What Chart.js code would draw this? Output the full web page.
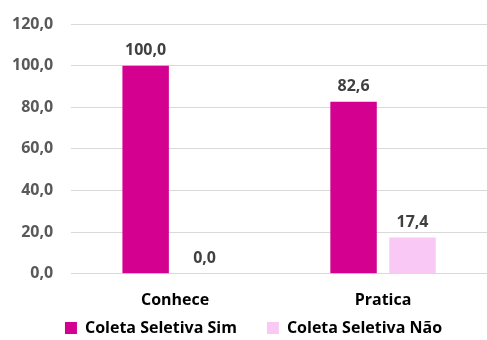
<!DOCTYPE html>
<html>
<head>
<meta charset="utf-8">
<script src="https://cdn.jsdelivr.net/npm/chart.js@4"></script>
<style>
html,body{margin:0;padding:0;background:#fff;}
#wrap{width:487px;height:340px;position:relative;}
</style>
</head>
<body>
<div id="wrap"><canvas id="c" width="487" height="340"></canvas></div>
<script>
const categories = ["Conhece", "Pratica"];
const seriesNames = ["Coleta Seletiva Sim", "Coleta Seletiva Não"];
const simValues = [100.0, 82.6];
const naoValues = [0.0, 17.4];
const yTicks = [0, 20, 40, 60, 80, 100, 120];

const fmt = v => v.toFixed(1).replace('.', ',');
const FONT = "'Open Sans', 'DejaVu Sans', sans-serif";

const LEGEND_PAD = 30;
const LEGEND_TEXT_Y = 328;
const LEGEND_SHIFT_X = 13;

const labelPlugin = {
  id: 'valueLabels',
  afterDatasetsDraw(chart) {
    const ctx = chart.ctx;
    ctx.save();
    ctx.font = "bold 16px " + FONT;
    ctx.fillStyle = '#404040';
    ctx.textAlign = 'center';
    ctx.textBaseline = 'alphabetic';
    chart.data.datasets.forEach((ds, i) => {
      chart.getDatasetMeta(i).data.forEach((bar, j) => {
        ctx.fillText(fmt(ds.data[j]), bar.x, bar.y - 11);
      });
    });
    ctx.restore();
  }
};

const legendFix = {
  id: 'legendFix',
  beforeLayout(chart) {
    const lg = chart.legend;
    if (lg && !lg._patched) {
      const orig = lg.fit;
      lg.fit = function () { orig.call(this); this.height = 13; };
      lg._patched = true;
    }
  },
  afterLayout(chart) {
    const lg = chart.legend;
    if (!lg) return;
    const ih = 16;
    const top = LEGEND_TEXT_Y - LEGEND_PAD - ih / 2;
    lg.top = top; lg.bottom = chart.height;
    lg.height = lg.bottom - lg.top;
    lg.left += LEGEND_SHIFT_X; lg.right += LEGEND_SHIFT_X;
  }
};

new Chart(document.getElementById('c'), {
  type: 'bar',
  data: {
    labels: categories,
    datasets: [
      { label: seriesNames[0], data: simValues, backgroundColor: '#D4008F' },
      { label: seriesNames[1], data: naoValues, backgroundColor: '#F9C8F5' }
    ]
  },
  options: {
    responsive: false,
    animation: false,
    layout: { padding: { top: 0, right: 0, left: -6, bottom: 0 } },
    datasets: { bar: { categoryPercentage: 0.567, barPercentage: 0.788 } },
    scales: {
      x: {
        grid: { display: false, drawTicks: false },
        border: { display: false },
        ticks: { color: '#000', font: { family: FONT, size: 16, weight: 'bold' }, padding: 17 }
      },
      y: {
        min: 0, max: 120,
        afterBuildTicks(axis) { axis.ticks = yTicks.map(v => ({ value: v })); },
        afterFit(axis) { axis.paddingTop = 24; },
        grid: { color: '#d9d9d9', drawTicks: false },
        border: { display: false },
        ticks: { color: '#595959', font: { family: FONT, size: 16, weight: 'bold' }, padding: 18, callback: v => fmt(v) }
      }
    },
    plugins: {
      legend: {
        position: 'bottom',
        labels: { boxWidth: 12, boxHeight: 12, padding: LEGEND_PAD, color: '#000', font: { family: FONT, size: 16, weight: 'bold' } }
      },
      tooltip: { enabled: false }
    }
  },
  plugins: [labelPlugin, legendFix]
});
</script>
</body>
</html>
